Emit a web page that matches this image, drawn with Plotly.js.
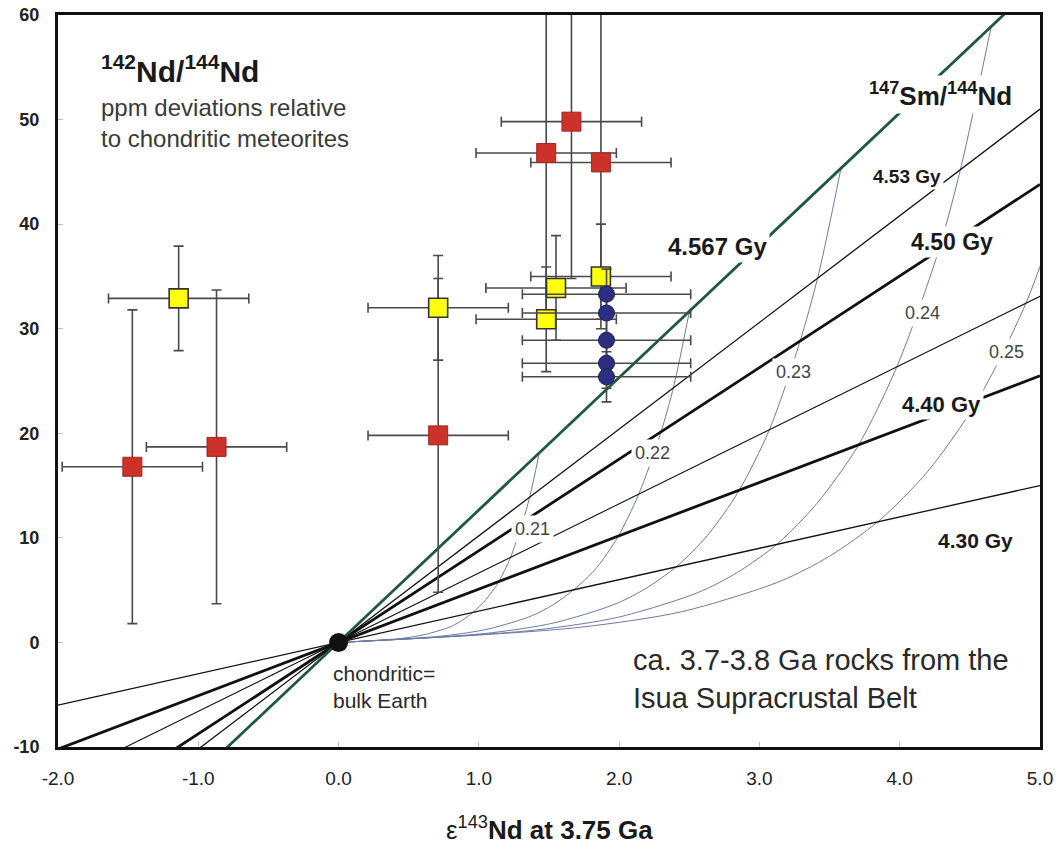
<!DOCTYPE html>
<html>
<head>
<meta charset="utf-8">
<script src="https://cdn.plot.ly/plotly-3.0.1.min.js"></script>
<style>html,body{margin:0;padding:0;background:#fff;}#chart{width:1058px;height:846px;}</style>
</head>
<body>
<div id="chart"></div>
<script>
// ---------- DATA ----------
// Isochrons: y value where each line meets the left (x=-2) and right (x=5) frame
const isoAges   = ['4.30', '4.40', '4.45', '4.50', '4.53', '4.567'];
const isoLeftX  = [-2, -2, -2, -2, -2, -2];
const isoRightX = [5, 5, 5, 5, 5, 5];
const isoLeftY  = [-6.0, -10.2, -13.2, -17.5, -20.4, -25.3];
const isoRightY = [15.0, 25.5, 33.1, 43.8, 51.0, 63.3];

// 147Sm/144Nd curves
const smNdLabels = ['0.21', '0.22', '0.23', '0.24', '0.25'];
const c021x = [0, 0.26, 0.44, 0.61, 0.79, 0.875, 0.96, 1.05, 1.14, 1.225, 1.31, 1.365, 1.43];
const c021y = [0, 0.19, 0.37, 0.74, 1.46, 2.06, 2.90, 4.09, 5.76, 8.11, 11.43, 14.03, 18.08];
const c022x = [0, 0.46, 0.765, 1.07, 1.38, 1.53, 1.68, 1.84, 1.99, 2.14, 2.295, 2.39, 2.50];
const c022y = [0, 0.33, 0.65, 1.29, 2.56, 3.61, 5.08, 7.15, 10.07, 14.19, 19.98, 24.54, 31.61];
const c023x = [0, 0.66, 1.095, 1.53, 1.97, 2.19, 2.41, 2.63, 2.85, 3.07, 3.285, 3.42, 3.58];
const c023y = [0, 0.47, 0.93, 1.85, 3.66, 5.16, 7.27, 10.24, 14.42, 20.31, 28.60, 35.13, 45.25];
const c024x = [0, 0.85, 1.42, 1.99, 2.56, 2.845, 3.13, 3.41, 3.70, 3.98, 4.27, 4.44, 4.65];
const c024y = [0, 0.61, 1.21, 2.40, 4.76, 6.71, 9.44, 13.30, 18.73, 26.38, 37.15, 45.63, 58.78];
const c025x = [0, 1.05, 1.75, 2.45, 3.15, 3.50, 3.85, 4.20, 4.55, 4.90, 5.25];
const c025y = [0, 0.75, 1.49, 2.95, 5.86, 8.25, 11.61, 16.36, 23.04, 32.45, 45.7];

// Samples
const redX    = [-1.47, -0.87, 0.71, 1.66, 1.48, 1.87];
const redY    = [16.8, 18.7, 19.8, 49.8, 46.8, 45.9];
const redErrX = [0.5, 0.5, 0.5, 0.5, 0.5, 0.5];
const redErrY = [15, 15, 15, 15, 15, 15];

const yellowX    = [-1.14, 0.71, 1.55, 1.48, 1.87];
const yellowY    = [32.9, 32.0, 33.9, 30.9, 35.0];
const yellowErrX = [0.5, 0.5, 0.5, 0.5, 0.5];
const yellowErrY = [5, 5, 5, 5, 5];

const blueX    = [1.91, 1.91, 1.91, 1.91, 1.91];
const blueY    = [33.3, 31.5, 28.9, 26.7, 25.4];
const blueErrX = [0.6, 0.6, 0.6, 0.6, 0.6];
const blueErrY = [2.4, 2.4, 2.4, 2.4, 2.4];

const chondX = [0];
const chondY = [0];

// Axis ticks
const xTickVals = [-2, -1, 0, 1, 2, 3, 4, 5];
const xTickText = ['-2.0', '-1.0', '0.0', '1.0', '2.0', '3.0', '4.0', '5.0'];
const yTickVals = [-10, 0, 10, 20, 30, 40, 50, 60];
const yTickText = ['-10', '0', '10', '20', '30', '40', '50', '60'];

// ---------- STYLES ----------
const FONT = 'Liberation Sans, Arial, Helvetica, sans-serif';
const isoStyle = {
  '4.30':  {color: '#111', width: 1.3},
  '4.40':  {color: '#111', width: 2.8},
  '4.45':  {color: '#111', width: 1.1},
  '4.50':  {color: '#111', width: 2.8},
  '4.53':  {color: '#111', width: 1.3},
  '4.567': {color: '#1d5a3c', width: 2.8}
};
const curveColor = '#6e7aa6';
const errColor = '#4a4a4a';

const traces = [];
const curveX = [c021x, c022x, c023x, c024x, c025x];
const curveY = [c021y, c022y, c023y, c024y, c025y];
smNdLabels.forEach((lab, i) => {
  traces.push({
    x: curveX[i], y: curveY[i], mode: 'lines', type: 'scatter',
    line: {color: curveColor, width: 1, shape: 'spline', smoothing: 0.8},
    hoverinfo: 'skip', showlegend: false, name: lab
  });
});
isoAges.forEach((age, i) => {
  traces.push({
    x: [isoLeftX[i], isoRightX[i]], y: [isoLeftY[i], isoRightY[i]],
    mode: 'lines', type: 'scatter', line: isoStyle[age],
    hoverinfo: 'skip', showlegend: false, name: age + ' Gy'
  });
});
const errStyle = (arr) => ({type: 'data', array: arr, visible: true, color: errColor, thickness: 1.6, width: 5});
traces.push({
  x: redX, y: redY, mode: 'markers', type: 'scatter', showlegend: false,
  error_x: errStyle(redErrX), error_y: errStyle(redErrY),
  marker: {symbol: 'square', size: 19, color: '#cc3229', line: {color: '#9b2a22', width: 1}}
});
traces.push({
  x: yellowX, y: yellowY, mode: 'markers', type: 'scatter', showlegend: false,
  error_x: errStyle(yellowErrX), error_y: errStyle(yellowErrY),
  marker: {symbol: 'square', size: 19, color: '#ffff10', line: {color: '#333', width: 1.6}}
});
traces.push({
  x: blueX, y: blueY, mode: 'markers', type: 'scatter', showlegend: false,
  error_x: errStyle(blueErrX), error_y: errStyle(blueErrY),
  marker: {symbol: 'circle', size: 16, color: '#2b2f80', line: {color: '#1a1d55', width: 1}}
});
traces.push({
  x: chondX, y: chondY, mode: 'markers', type: 'scatter', showlegend: false,
  marker: {symbol: 'circle', size: 19, color: '#111'}
});

const lab = (text, x, y, size, opts) => Object.assign({
  text: text, x: x, y: y, xref: 'x', yref: 'y', showarrow: false,
  font: {family: FONT, size: size, color: '#1a1a1a'},
  bgcolor: 'white', borderpad: 2
}, opts || {});
const curveFont = {family: FONT, size: 18, color: '#444'};

const annotations = [
  lab('<b>4.567 Gy</b>', 2.70, 37.9, 24),
  lab('<b>4.53 Gy</b>', 4.05, 44.6, 19),
  lab('<b>4.50 Gy</b>', 4.37, 38.3, 23),
  lab('<b>4.40 Gy</b>', 4.30, 22.8, 22),
  lab('<b>4.30 Gy</b>', 4.54, 9.7, 21, {bgcolor: 'rgba(0,0,0,0)'}),
  lab('<b><sup>147</sup>Sm/<sup>144</sup>Nd</b>', 4.29, 52.4, 26),
  lab('0.21', 1.385, 10.8, 18, {font: curveFont, borderpad: 3}),
  lab('0.22', 2.24, 18.1, 18, {font: curveFont, borderpad: 3}),
  lab('0.23', 3.24, 25.9, 18, {font: curveFont, borderpad: 3}),
  lab('0.24', 4.16, 31.5, 18, {font: curveFont, borderpad: 3}),
  lab('0.25', 4.76, 27.8, 18, {font: curveFont, borderpad: 3}),
  lab('<b><sup>142</sup>Nd/<sup>144</sup>Nd</b>', -1.7, 54.8, 30,
      {xanchor: 'left', yanchor: 'middle', borderpad: 0, bgcolor: 'rgba(0,0,0,0)', font: {family: FONT, size: 30, color: '#1a1a1a'}}),
  lab('ppm deviations relative<br>to chondritic meteorites', -1.7, 49.7, 24,
      {xanchor: 'left', align: 'left', borderpad: 0, bgcolor: 'rgba(0,0,0,0)', font: {family: FONT, size: 24, color: '#3a3a3a'}}),
  lab('chondritic=<br>bulk Earth', -0.06, -4.3, 21,
      {xanchor: 'left', align: 'left', bgcolor: 'rgba(0,0,0,0)', font: {family: FONT, size: 21, color: '#2a2a2a'}}),
  lab('ca. 3.7-3.8 Ga rocks from the<br>Isua Supracrustal Belt', 2.08, -3.5, 29,
      {xanchor: 'left', align: 'left', bgcolor: 'rgba(0,0,0,0)', font: {family: FONT, size: 29, color: '#2a2a2a'}}),
  {text: 'ε<sup>143</sup><b>Nd at 3.75 Ga</b>', xref: 'paper', yref: 'paper', x: 0.5, y: -0.112,
   xanchor: 'center', yanchor: 'middle', showarrow: false,
   font: {family: FONT, size: 26, color: '#1a1a1a'}}
];

const layout = {
  width: 1058, height: 846,
  margin: {l: 58, r: 18, t: 15, b: 99, pad: 0},
  paper_bgcolor: 'white', plot_bgcolor: 'white',
  showlegend: false,
  font: {family: FONT, color: '#1a1a1a'},
  xaxis: {
    range: [-2, 5], tickmode: 'array', tickvals: xTickVals, ticktext: xTickText,
    showgrid: false, zeroline: false, showline: true, linecolor: '#111', linewidth: 3, mirror: true,
    ticks: 'inside', ticklen: 5, tickcolor: '#bbb', tickwidth: 1,
    tickfont: {family: FONT, size: 19, color: '#222'}, ticklabelstandoff: 12
  },
  yaxis: {
    range: [-10, 60], tickmode: 'array', tickvals: yTickVals,
    ticktext: yTickText.map(t => '<b>' + t + '</b>'),
    showgrid: false, zeroline: false, showline: true, linecolor: '#111', linewidth: 3, mirror: true,
    ticks: 'inside', ticklen: 5, tickcolor: '#bbb', tickwidth: 1,
    tickfont: {family: FONT, size: 18, color: '#222'}, ticklabelstandoff: 12
  },
  annotations: annotations
};

Plotly.newPlot('chart', traces, layout, {displayModeBar: false, staticPlot: true});
</script>
</body>
</html>
